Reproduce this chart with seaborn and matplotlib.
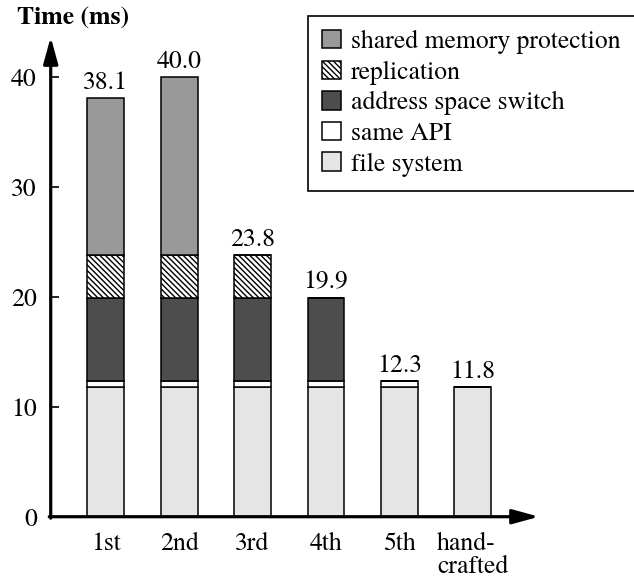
import matplotlib
matplotlib.use("Agg")
import matplotlib.pyplot as plt
from matplotlib.patches import Patch
import seaborn as sns
import numpy as np

categories = ["1st", "2nd", "3rd", "4th", "5th", "hand-\ncrafted"]
file_system = [11.8, 11.8, 11.8, 11.8, 11.8, 11.8]
same_api = [0.5, 0.5, 0.5, 0.5, 0.5, 0.0]
address_space_switch = [7.6, 7.6, 7.6, 7.6, 0.0, 0.0]
replication = [3.9, 3.9, 3.9, 0.0, 0.0, 0.0]
shared_memory_protection = [14.3, 16.2, 0.0, 0.0, 0.0, 0.0]
y_ticks = [0, 10, 20, 30, 40]

layers = [
    ("file system", file_system, "#e5e5e5", None),
    ("same API", same_api, "#ffffff", None),
    ("address space switch", address_space_switch, "#4d4d4d", None),
    ("replication", replication, "#ffffff", "\\" * 6),
    ("shared memory protection", shared_memory_protection, "#999999", None),
]

plt.rcParams["font.family"] = ["TeX Gyre Termes", "FreeSerif", "Liberation Serif", "DejaVu Serif"]
plt.rcParams["font.size"] = 18.5
plt.rcParams["hatch.linewidth"] = 1.0

fig = plt.figure(figsize=(6.34, 5.83), dpi=100)
ax = fig.add_axes([0.08, 0.1137, 0.764, 0.8228])

bottom = np.zeros(len(categories))
for name, vals, col, hatch in layers:
    vals = np.array(vals, dtype=float)
    sns.barplot(x=categories, y=vals, bottom=bottom, color=col, saturation=1,
                edgecolor="black", linewidth=1.1, width=0.5, hatch=hatch, ax=ax)
    bottom = bottom + vals

totals = bottom
for i, t in enumerate(totals):
    ax.annotate(f"{t:.1f}", (i, t), xytext=(0, 6.5), textcoords="offset points",
                ha="center", va="baseline")

ax.set_xlim(-0.75, 5.85)
ax.set_ylim(0, 43.6)
ax.set_yticks(y_ticks)
ax.set_yticklabels([str(v) for v in y_ticks])
ax.tick_params(axis="y", direction="in", length=6, width=1.2, pad=10)
ax.tick_params(axis="x", length=0, pad=11)
for lbl in ax.get_xticklabels():
    lbl.set_linespacing(0.95)
    lbl.set_multialignment("left")
for s in ax.spines.values():
    s.set_visible(False)
ax.set_xlabel("")
ax.set_ylabel("")

arrow = dict(arrowstyle="-|>,head_length=0.8,head_width=0.22", lw=2.3, color="black",
             mutation_scale=20, shrinkA=0, shrinkB=0)
ax.annotate("", xy=(0, 1), xytext=(0, -0.003), xycoords="axes fraction",
            arrowprops=arrow, annotation_clip=False)
ax.annotate("", xy=(1.008, 0), xytext=(-0.003, 0), xycoords="axes fraction",
            arrowprops=arrow, annotation_clip=False)

fig.text(17 / 634, 1 - 7 / 583, "Time (ms)", fontweight="bold", ha="left", va="top")

handles = [Patch(facecolor=col, edgecolor="black", hatch=h, linewidth=1.1, label=n)
           for n, v, col, h in layers[::-1]]
leg = fig.legend(handles=handles, loc="upper left",
                 bbox_to_anchor=(308 / 634, 1 - 16 / 583), bbox_transform=fig.transFigure,
                 borderaxespad=0, fancybox=False, framealpha=1, edgecolor="black",
                 handlelength=0.72, handleheight=0.72, handletextpad=0.4,
                 labelspacing=0.25, borderpad=0.55)
leg.get_frame().set_linewidth(1.2)

fig.savefig("out.png", dpi=100)
